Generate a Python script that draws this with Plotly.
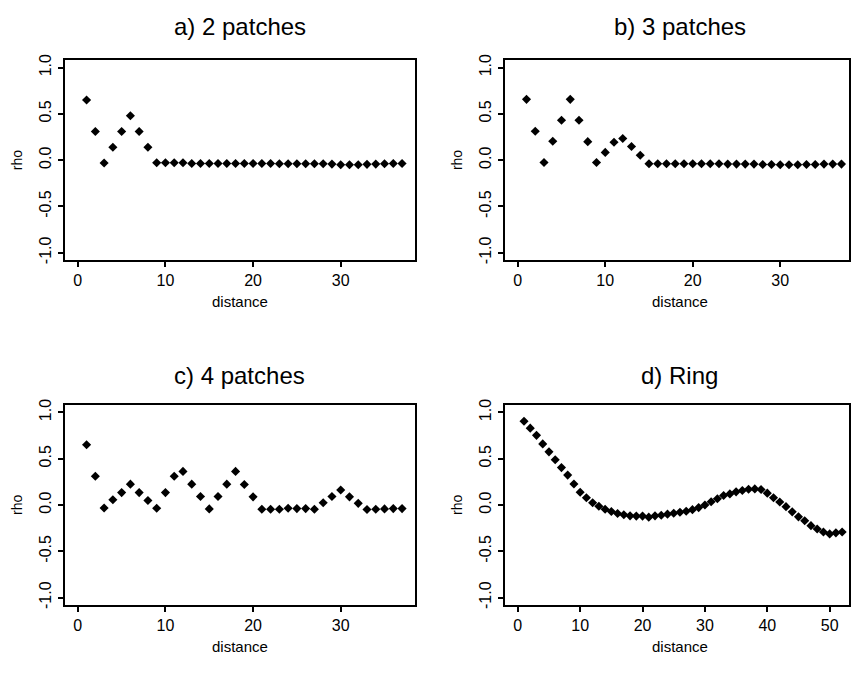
import plotly.graph_objects as go

W, H = 851, 675

# ---- data ----
dist_a = list(range(1, 38))
rho_a = [0.65, 0.31, -0.03, 0.14, 0.31, 0.48, 0.31, 0.14, -0.028,
         -0.028, -0.028, -0.028, -0.035, -0.035, -0.035, -0.035, -0.035, -0.035,
         -0.035, -0.035, -0.035, -0.035, -0.039, -0.039, -0.039, -0.039, -0.039,
         -0.039, -0.042, -0.049, -0.049, -0.049, -0.045, -0.042, -0.039, -0.035, -0.035]

dist_b = list(range(1, 38))
rho_b = [0.657, 0.313, -0.025, 0.204, 0.432, 0.657, 0.432, 0.20, -0.025,
         0.084, 0.193, 0.235, 0.148, 0.053, -0.039,
         -0.039, -0.039, -0.039, -0.039, -0.039, -0.039, -0.039, -0.039, -0.042,
         -0.042, -0.042, -0.042, -0.046, -0.046, -0.049, -0.049, -0.049, -0.046,
         -0.046, -0.042, -0.042, -0.042]

dist_c = list(range(1, 38))
rho_c = [0.651, 0.31, -0.032, 0.056, 0.134, 0.225, 0.134, 0.049, -0.035,
         0.134, 0.31, 0.363, 0.225, 0.092, -0.042, 0.092, 0.225, 0.363,
         0.222, 0.088, -0.046, -0.046, -0.046, -0.035, -0.039, -0.039, -0.046,
         0.025, 0.092, 0.162, 0.088, 0.018, -0.049, -0.046, -0.042, -0.039, -0.039]

dist_d = list(range(1, 53))
rho_d = [0.904, 0.83, 0.752, 0.66, 0.574, 0.489, 0.404, 0.323, 0.227, 0.138,
         0.078, 0.025, -0.014, -0.046, -0.071, -0.092, -0.106, -0.117, -0.12, -0.12,
         -0.131, -0.117, -0.11, -0.099, -0.089, -0.078, -0.067, -0.05, -0.028, 0.0,
         0.035, 0.067, 0.103, 0.12, 0.142, 0.156, 0.17, 0.174, 0.167, 0.128,
         0.078, 0.032, -0.018, -0.074, -0.128, -0.17, -0.223, -0.259, -0.291, -0.312,
         -0.301, -0.291]

titles = ["a) 2 patches", "b) 3 patches", "c) 4 patches", "d) Ring"]
x_label = "distance"
y_label = "rho"
y_ticks = [-1.0, -0.5, 0.0, 0.5, 1.0]
y_tick_text = ["-1.0", "-0.5", "0.0", "0.5", "1.0"]
x_ticks_short = [0, 10, 20, 30]
x_ticks_long = [0, 10, 20, 30, 40, 50]

# ---- layout geometry (pixels) ----
def fx(px):
    return px / W

def fy(py):
    return 1 - py / H

panels = [
    dict(x=(65, 416), y=(55, 258), xr=[-1.48, 38.48], data=(dist_a, rho_a), xt=x_ticks_short, tg=34),
    dict(x=(506, 851), y=(55, 258), xr=[-1.48, 37.86], data=(dist_b, rho_b), xt=x_ticks_short, tg=34),
    dict(x=(65, 416), y=(405, 608), xr=[-1.48, 38.48], data=(dist_c, rho_c), xt=x_ticks_short, tg=30),
    dict(x=(506, 851), y=(405, 608), xr=[-2.08, 53.1], data=(dist_d, rho_d), xt=x_ticks_long, tg=30),
]

FONT = "Liberation Sans, Arial, Helvetica, sans-serif"
fig = go.Figure()
annotations = []
layout = {}
for i, p in enumerate(panels):
    n = "" if i == 0 else str(i + 1)
    xs, ys = p["data"]
    fig.add_trace(go.Scatter(x=xs, y=ys, mode="markers", xaxis="x" + n, yaxis="y" + n,
                             marker=dict(symbol="diamond", size=7, color="black"),
                             showlegend=False, cliponaxis=False))
    common = dict(showline=True, linecolor="black", linewidth=2, mirror=True,
                  ticks="outside", ticklen=5, tickwidth=1.5, tickcolor="black",
                  showgrid=False, zeroline=False,
                  tickfont=dict(family=FONT, size=16, color="black"))
    layout["xaxis" + n] = dict(domain=[fx(p["x"][0]), fx(p["x"][1])], range=p["xr"],
                               anchor="y" + n, tickvals=p["xt"], **common)
    layout["yaxis" + n] = dict(domain=[fy(p["y"][1]), fy(p["y"][0])], range=[-1.08, 1.08],
                               anchor="x" + n, tickvals=y_ticks, ticktext=y_tick_text,
                               tickangle=-90, **common)
    full_right = p["x"][0] + 351
    cx = (p["x"][0] + full_right) / 2
    annotations.append(dict(text=titles[i], x=fx(cx), y=fy(p["y"][0] - p["tg"]), xref="paper", yref="paper",
                            showarrow=False, font=dict(family=FONT, size=24, color="black"),
                            xanchor="center", yanchor="middle"))
    annotations.append(dict(text=x_label, x=fx(cx), y=fy(p["y"][1] + 42), xref="paper", yref="paper",
                            showarrow=False, font=dict(family=FONT, size=15, color="black"),
                            xanchor="center", yanchor="middle"))
    cy = (p["y"][0] + p["y"][1]) / 2
    annotations.append(dict(text=y_label, x=fx(p["x"][0] - 48), y=fy(cy), xref="paper", yref="paper",
                            showarrow=False, textangle=-90,
                            font=dict(family=FONT, size=14, color="black"),
                            xanchor="center", yanchor="middle"))

fig.update_layout(width=W, height=H, margin=dict(l=0, r=0, t=0, b=0),
                  paper_bgcolor="white", plot_bgcolor="white",
                  annotations=annotations, **layout)
fig.write_html("out.html", config={"displayModeBar": False},
               post_script="document.body.style.margin='0px';document.body.style.overflow='hidden';")
